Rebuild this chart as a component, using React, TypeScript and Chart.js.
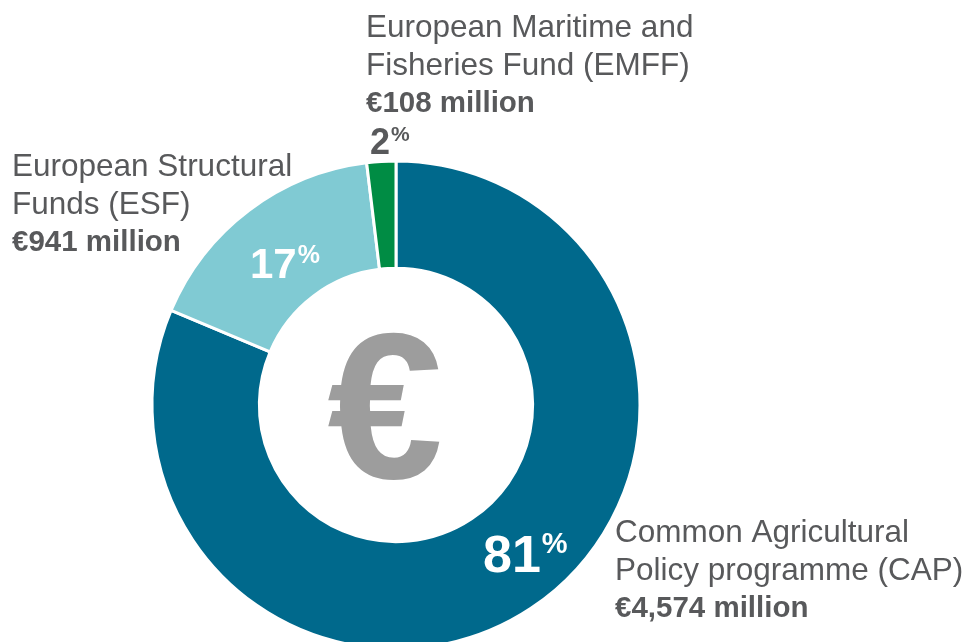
import React, { useEffect, useRef } from "react";
import { Chart, registerables } from "chart.js";

Chart.register(...registerables);

const categories = [
  "Common Agricultural Policy programme (CAP)",
  "European Structural Funds (ESF)",
  "European Maritime and Fisheries Fund (EMFF)",
];
const amountsMillion = [4574, 941, 108];
const segmentColors = ["#00698c", "#80cad3", "#008c44"];
const amountLabels = ["€4,574 million", "€941 million", "€108 million"];
const nameLines = [
  ["Common Agricultural", "Policy programme (CAP)"],
  ["European Structural", "Funds (ESF)"],
  ["European Maritime and", "Fisheries Fund (EMFF)"],
];

const FONT = '"Liberation Sans", Arial, sans-serif';
const TEXT = "#58595b";

function drawPct(
  ctx: CanvasRenderingContext2D,
  x: number,
  baseline: number,
  num: string,
  big: number,
  small: number,
  raise: number,
  color: string
) {
  ctx.fillStyle = color;
  ctx.textAlign = "left";
  ctx.textBaseline = "alphabetic";
  ctx.font = `bold ${big}px ${FONT}`;
  ctx.fillText(num, x, baseline);
  const w = ctx.measureText(num).width;
  ctx.font = `bold ${small}px ${FONT}`;
  ctx.fillText("%", x + w + 1, baseline - raise);
}

const labelPlugin = {
  id: "labels",
  afterDraw(chart: any) {
    const ctx: CanvasRenderingContext2D = chart.ctx;
    const meta = chart.getDatasetMeta(0);
    const arc = meta.data[0];
    const cx = arc.x;
    const cy = arc.y;
    const total = amountsMillion.reduce((a, b) => a + b, 0);
    const pcts = amountsMillion.map((v) => String(Math.round((v / total) * 100)));
    ctx.save();

    // Euro sign in centre
    ctx.fillStyle = "#9d9d9d";
    ctx.font = `bold 208px ${FONT}`;
    ctx.textAlign = "center";
    ctx.textBaseline = "alphabetic";
    ctx.fillText("€", cx - 11, cy + 73);

    // text blocks
    const blocks = [
      { x: 615, y: 542, idx: 0 },
      { x: 12, y: 176, idx: 1 },
      { x: 366, y: 37, idx: 2 },
    ];
    const lh = 38;
    for (const b of blocks) {
      ctx.fillStyle = TEXT;
      ctx.textAlign = "left";
      ctx.font = `31.5px ${FONT}`;
      nameLines[b.idx].forEach((l, i) => ctx.fillText(l, b.x, b.y + i * lh));
      ctx.font = `bold 29.5px ${FONT}`;
      ctx.fillText(amountLabels[b.idx], b.x, b.y + 2 * lh - 1);
    }

    // percentages
    drawPct(ctx, cx + 87, cy + 167, pcts[0], 52, 29, 19, "#ffffff");
    drawPct(ctx, cx - 146, cy - 127, pcts[1], 42, 25, 15, "#ffffff");
    drawPct(ctx, cx - 26, cy - 251, pcts[2], 36, 21, 13, TEXT);
    ctx.restore();
  },
};

export default function App() {
  const ref = useRef<HTMLCanvasElement>(null);
  useEffect(() => {
    const canvas = ref.current!;
    const chart = new Chart(canvas, {
      type: "doughnut",
      data: {
        labels: categories,
        datasets: [
          {
            data: amountsMillion,
            backgroundColor: segmentColors,
            borderColor: "#ffffff",
            borderWidth: 3,
          },
        ],
      },
      options: {
        animation: false,
        responsive: false,
        rotation: 0,
        cutout: "56%",
        radius: 244,
        layout: { padding: { left: 152, right: 322, top: 161, bottom: 51 } },
        plugins: {
          legend: { display: false },
          tooltip: { enabled: false },
        },
      },
      plugins: [labelPlugin],
    });
    return () => chart.destroy();
  }, []);
  return (
    <div
      style={{
        position: "fixed",
        left: 0,
        top: 0,
        width: 962,
        height: 642,
        overflow: "hidden",
        background: "#ffffff",
      }}
    >
      <canvas ref={ref} width={962} height={700} style={{ width: 962, height: 700, display: "block" }} />
    </div>
  );
}
